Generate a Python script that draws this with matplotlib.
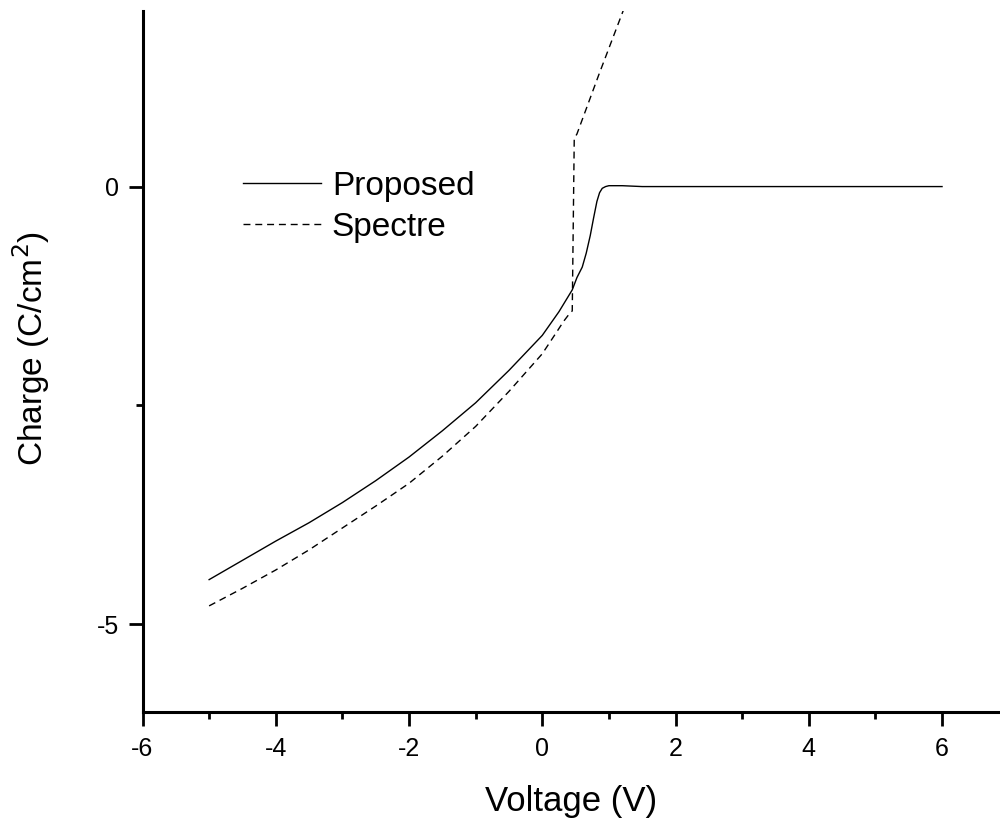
import matplotlib
matplotlib.use('Agg')
import matplotlib.pyplot as plt

# Data
v_proposed = [-5.0, -4.5, -4.0, -3.5, -3.0, -2.5, -2.0, -1.5, -1.0, -0.5, 0.0, 0.25,
              0.45, 0.52, 0.6, 0.66, 0.72, 0.77, 0.82, 0.86, 0.9, 0.95, 1.0, 1.2, 1.5, 6.0]
q_proposed = [-4.49, -4.27, -4.05, -3.84, -3.61, -3.36, -3.09, -2.79, -2.47, -2.10, -1.70, -1.43,
              -1.18, -1.04, -0.92, -0.76, -0.56, -0.36, -0.17, -0.07, -0.02, 0.0, 0.01, 0.01, 0.0, 0.0]

v_spectre = [-5.0, -4.5, -4.0, -3.5, -3.0, -2.5, -2.0, -1.5, -1.0, -0.5, 0.0, 0.2,
             0.32, 0.4, 0.45, 0.48, 0.52, 0.85, 1.25]
q_spectre = [-4.79, -4.59, -4.38, -4.15, -3.90, -3.65, -3.39, -3.08, -2.74, -2.34, -1.91, -1.68,
             -1.54, -1.46, -1.42, 0.55, 0.60, 1.28, 2.08]

plt.rcParams['font.family'] = ['Liberation Sans', 'DejaVu Sans']
plt.rcParams['axes.unicode_minus'] = False

fig = plt.figure(figsize=(10, 8.21), dpi=100)
ax = fig.add_axes([0.1425, 0.133, 0.8575, 0.853])

ax.plot(v_proposed, q_proposed, color='black', lw=1.0, label='Proposed')
ax.plot(v_spectre, q_spectre, color='black', lw=1.0, linestyle=(0, (5, 3.5)), label='Spectre')

ax.set_xlim(-6, 6.87)
ax.set_ylim(-6, 2)

ax.set_xticks([-6, -4, -2, 0, 2, 4, 6])
ax.set_xticks([-5, -3, -1, 1, 3, 5], minor=True)
ax.set_yticks([-5, 0])
ax.set_yticks([-2.5], minor=True)

for s in ['top', 'right']:
    ax.spines[s].set_visible(False)
for s in ['left', 'bottom']:
    ax.spines[s].set_linewidth(2.2)

ax.tick_params(which='major', direction='out', length=10, width=2, labelsize=18)
ax.tick_params(which='minor', direction='out', length=5, width=2)
ax.tick_params(axis='x', which='major', pad=8)
ax.tick_params(axis='y', which='major', pad=7)

ax.set_xlabel('Voltage (V)', fontsize=25)
ax.set_ylabel('Charge (C/cm$^2$)', fontsize=24)
ax.xaxis.set_label_coords(0.5, -0.104)
ax.yaxis.set_label_coords(-0.105, 0.519)

ax.legend(loc='upper left', bbox_to_anchor=(0.117, 0.772), frameon=False, fontsize=24,
          handlelength=2.34, handletextpad=0.33, borderpad=0, borderaxespad=0, labelspacing=0.3)

plt.savefig('out.png', dpi=100)
